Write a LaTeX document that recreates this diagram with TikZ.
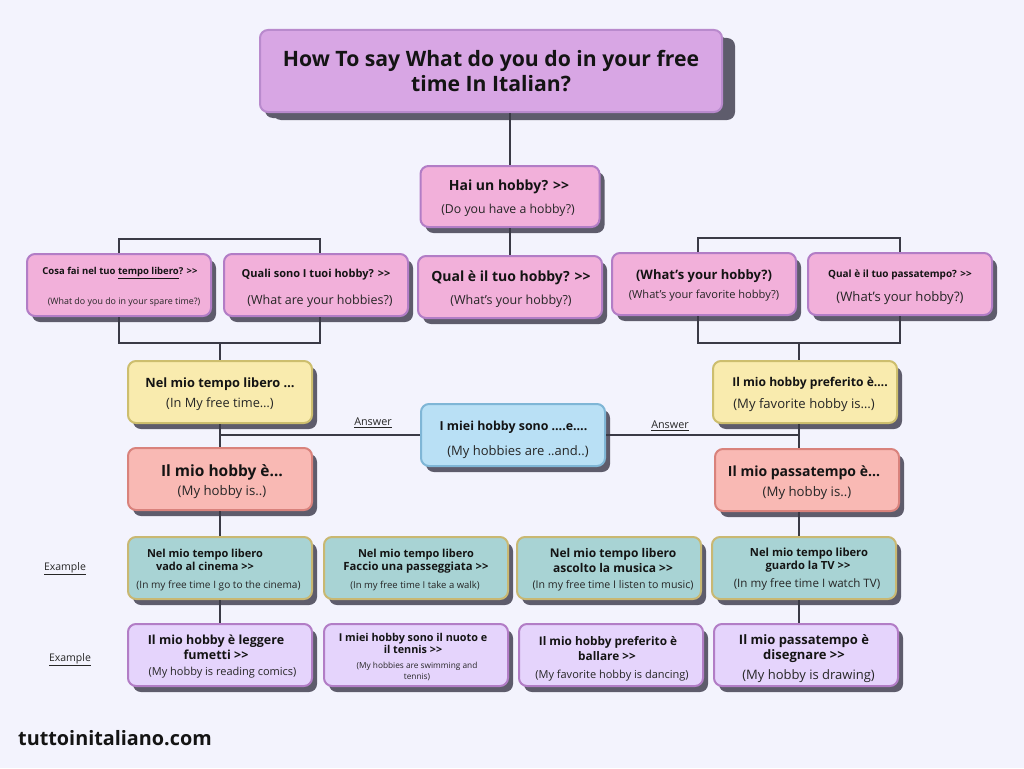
\documentclass[tikz,border=0pt]{standalone}
\usepackage{fontspec}
\setmainfont{Open Sans}[Ligatures=TeXOff]
\usetikzlibrary{shadows}
\definecolor{bg}{HTML}{F3F3FD}
\definecolor{shade}{HTML}{5E5C6C}
\definecolor{titlefill}{HTML}{D8A6E4}
\definecolor{titledraw}{HTML}{B98ACD}
\definecolor{pinkfill}{HTML}{F2B0DA}
\definecolor{pinkdraw}{HTML}{B27DC6}
\definecolor{yelfill}{HTML}{F9EBAE}
\definecolor{yeldraw}{HTML}{CDBE6E}
\definecolor{bluefill}{HTML}{B9E0F5}
\definecolor{bluedraw}{HTML}{7FB6D6}
\definecolor{redfill}{HTML}{F9B9B4}
\definecolor{reddraw}{HTML}{D9827C}
\definecolor{tealfill}{HTML}{A8D3D4}
\definecolor{tealdraw}{HTML}{C9B872}
\definecolor{lavfill}{HTML}{E5D4FC}
\definecolor{lavdraw}{HTML}{B27DC6}
\definecolor{linec}{HTML}{3A3A46}
\definecolor{txtc}{HTML}{141414}
\definecolor{subc}{HTML}{262626}
\newcommand\myfs[1]{\fontsize{#1}{#1}\selectfont}
\tikzset{
  box/.style={draw, line width=2, rounded corners=8, minimum width=184, minimum height=62, inner sep=0,
    drop shadow={shadow xshift=5pt, shadow yshift=-6pt, fill=shade, opacity=1}},
  pinkbox/.style={box, fill=pinkfill, draw=pinkdraw},
  yelbox/.style={box, fill=yelfill, draw=yeldraw},
  bluebox/.style={box, fill=bluefill, draw=bluedraw},
  redbox/.style={box, fill=redfill, draw=reddraw},
  tealbox/.style={box, fill=tealfill, draw=tealdraw},
  lavbox/.style={box, fill=lavfill, draw=lavdraw},
  hd/.style={anchor=base, yshift={-0.36*#1pt}, inner sep=0, text=txtc, font=\bfseries\myfs{#1}},
  sb/.style={anchor=base, yshift={-0.36*#1pt}, inner sep=0, text=subc, font=\myfs{#1}},
  conn/.style={draw=linec, line width=1.1},
}
\begin{document}
\begin{tikzpicture}[x=1pt,y=-1pt]
\fill[bg] (0,0) rectangle (1024,768);
\useasboundingbox (0,0) rectangle (1024,768);

% boxes
\node[box, fill=titlefill, draw=titledraw, minimum width=462, minimum height=82,
  drop shadow={shadow xshift=13pt, shadow yshift=-8pt, fill=shade, opacity=1}] (title) at (491,71) {};
\node[pinkbox, minimum width=179, minimum height=61] (hai) at (510,196.5) {};
\node[pinkbox] (cosa) at (119,285) {};
\node[pinkbox] (quali) at (316,285) {};
\node[pinkbox] (qual) at (510,287) {};
\node[pinkbox] (what) at (704,284) {};
\node[pinkbox] (passa) at (900,284) {};
\node[yelbox] (yl) at (220,392) {};
\node[yelbox] (yr) at (805,392) {};
\node[bluebox] (blue) at (513,435) {};
\node[redbox] (rl) at (220,479) {};
\node[redbox] (rr) at (807,480) {};
\node[tealbox] (ta) at (220,568) {};
\node[tealbox] (tb) at (416,568) {};
\node[tealbox] (tc) at (609,568) {};
\node[tealbox] (td) at (804,568) {};
\node[lavbox] (la) at (220,655) {};
\node[lavbox] (lb) at (416,655) {};
\node[lavbox] (lc) at (611,655) {};
\node[lavbox] (ld) at (806,655) {};

% connectors
\coordinate (lbot) at (220,343);
\coordinate (rbot) at (799,343);
\draw[conn] (title.south -| hai.north) -- (hai.north);
\draw[conn] (hai.south) -- (qual.north);
\draw[conn] (cosa.north) -- ++(0,-14) -| ([xshift=4pt]quali.north);
\draw[conn] ([xshift=-6pt]what.north) -- ++(0,-14) -| (passa.north);
\draw[conn] (cosa.south) |- (lbot) -| ([xshift=4pt]quali.south);
\draw[conn] (lbot) -- (yl.north);
\draw[conn] ([xshift=-6pt]what.south) |- (rbot) -| (passa.south);
\draw[conn] (rbot) -- (rbot |- yr.north);
\draw[conn] (yl.south) -- (rl.north);
\draw[conn] (blue.west) -- (blue.west -| yl.south);
\draw[conn] (rbot |- yr.south) -- (rbot |- rr.north);
\draw[conn] (blue.east) -- (blue.east -| rbot);
\draw[conn] (rl.south) -- (ta.north);
\draw[conn] (ta.south) -- (la.north);
\draw[conn] (rbot |- rr.south) -- (rbot |- td.north);
\draw[conn] (rbot |- td.south) -- (rbot |- ld.north);

% texts
\node[hd=21.2] (t1a) at (491,58.7) {How To say What do you do in your free};
\node[hd=21.2] (t1b) at (491,84.2) {time In Italian?};
\node[hd=14] (t2a) at (509,185) {Hai un hobby? >>};
\node[sb=12.3] (t2b) at (508,209) {(Do you have a hobby?)};
\node[hd=9.5] (t3a) at (120,270.7) {Cosa fai nel tuo \underline{tempo libero}? >>};
\node[sb=8.9] (t3b) at (124,301.5) {(What do you do in your spare time?)};
\node[hd=11] (t4a) at (316,274) {Quali sono I tuoi hobby? >>};
\node[sb=12.5] (t4b) at (320,299.7) {(What are your hobbies?)};
\node[hd=14] (t5a) at (511,276) {Qual è il tuo hobby? >>};
\node[sb=12.5] (t5b) at (511,300) {(What’s your hobby?)};
\node[hd=13] (t6a) at (704,275.3) {(What’s your hobby?)};
\node[sb=11.1] (t6b) at (704,294.7) {(What’s your favorite hobby?)};
\node[hd=10] (t7a) at (900,273.7) {Qual è il tuo passatempo? >>};
\node[sb=13.1] (t7b) at (900,296.7) {(What’s your hobby?)};
\node[hd=12.8] (t8a) at (220,383.3) {Nel mio tempo libero …};
\node[sb=12.8] (t8b) at (220,403) {(In My free time…)};
\node[hd=12.1] (t9a) at (810,382.5) {Il mio hobby preferito è….};
\node[sb=13.1] (t9b) at (804,403.3) {(My favorite hobby is…)};
\node[hd=12.4] (t10a) at (513.5,426) {I miei hobby sono ….e….};
\node[sb=13] (t10b) at (518,451) {(My hobbies are ..and..)};
\node[hd=15.5] (t11a) at (222,471.3) {Il mio hobby è…};
\node[sb=13.2] (t11b) at (222,490.5) {(My hobby is..)};
\node[hd=14] (t12a) at (804,471.3) {Il mio passatempo è…};
\node[sb=13.2] (t12b) at (807,492) {(My hobby is..)};

\node[hd=11] (t13a) at (205,553.8) {Nel mio tempo libero};
\node[hd=11] (t13b) at (205,566.7) {vado al cinema >>};
\node[sb=10.1] (t13c) at (218.5,585) {(In my free time I go to the cinema)};
\node[hd=11] (t14a) at (416,553.5) {Nel mio tempo libero};
\node[hd=11.3] (t14b) at (416,566.5) {Faccio una passeggiata >>};
\node[sb=9.5] (t14c) at (415,585) {(In my free time I take a walk)};
\node[hd=12] (t15a) at (613,553) {Nel mio tempo libero};
\node[hd=12] (t15b) at (613,567.8) {ascolto la musica >>};
\node[sb=10.6] (t15c) at (613,584.5) {(In my free time I listen to music)};
\node[hd=11.2] (t16a) at (809,552.5) {Nel mio tempo libero};
\node[hd=11.2] (t16b) at (808,565.2) {guardo la TV >>};
\node[sb=11.6] (t16c) at (807,583.5) {(In my free time I watch TV)};

\node[hd=12.5] (t17a) at (216,639.8) {Il mio hobby è leggere};
\node[hd=12.5] (t17b) at (216,654.7) {fumetti >>};
\node[sb=11] (t17c) at (222.5,671.2) {(My hobby is reading comics)};
\node[hd=10.8] (t18a) at (413,637.3) {I miei hobby sono il nuoto e};
\node[hd=10.8] (t18b) at (413,649.8) {il tennis >>};
\node[sb=8.3] (t18c) at (417,665.3) {(My hobbies are swimming and};
\node[sb=8.3] (t18d) at (417,676.3) {tennis)};
\node[hd=11.8] (t19a) at (608,640.8) {Il mio hobby preferito è};
\node[hd=11.8] (t19b) at (607,655.8) {ballare >>};
\node[sb=11] (t19c) at (612,674.2) {(My favorite hobby is dancing)};
\node[hd=13] (t20a) at (804,639.7) {Il mio passatempo è};
\node[hd=13] (t20b) at (804,655) {disegnare >>};
\node[sb=13] (t20c) at (808.5,675) {(My hobby is drawing)};

% labels
\node[sb=10.8] (ans1) at (373,421.8) {\underline{Answer}};
\node[sb=10.8] (ans2) at (670,425) {\underline{Answer}};
\node[sb=10.5] (ex1) at (65,566.7) {\underline{Example}};
\node[sb=10.5] (ex2) at (70,657.8) {\underline{Example}};
\node[anchor=base west, yshift={-0.36*19.8pt}, inner sep=0, text=txtc, font=\bfseries\myfs{19.8}] (site) at (18,738) {tuttoinitaliano.com};
\end{tikzpicture}
\end{document}
